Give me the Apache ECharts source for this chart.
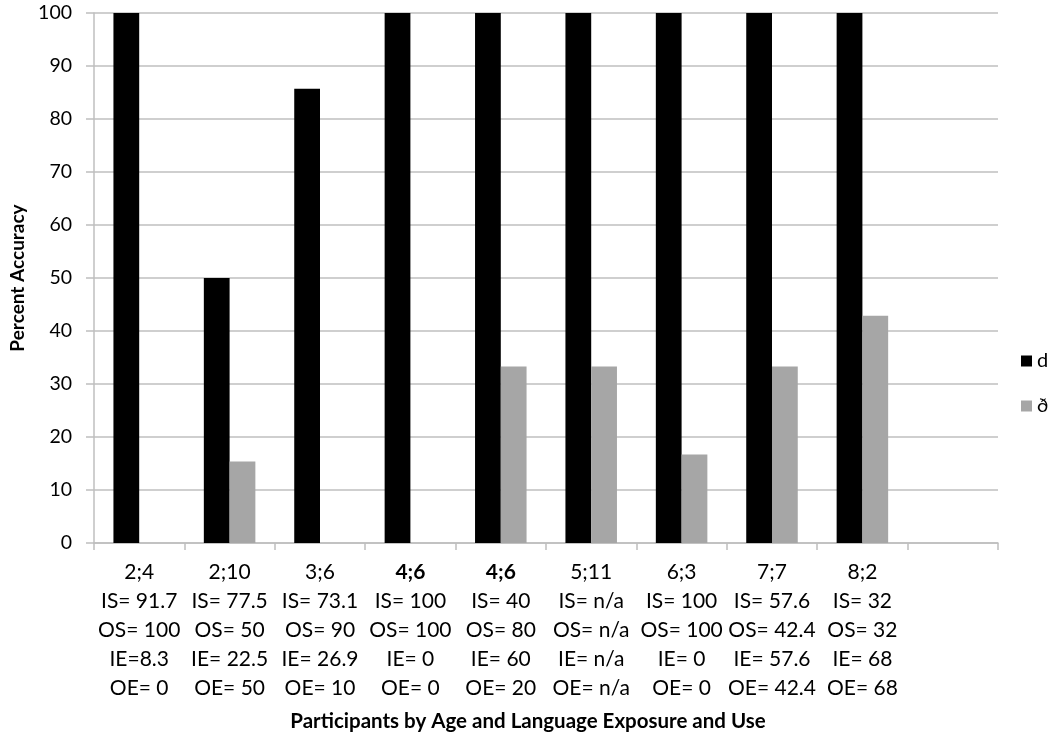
<!DOCTYPE html>
<html>
<head>
<meta charset="utf-8">
<script src="https://cdn.jsdelivr.net/npm/echarts@6/dist/echarts.min.js"></script>
<style>
  html, body { margin: 0; padding: 0; background: #fff; }
  #chart { width: 1050px; height: 744px; }
</style>
</head>
<body>
<div id="chart"></div>
<script>
// participant rows, the last slot is the empty category Excel left at the end
const ages = ['2;4', '2;10', '3;6', '4;6', '4;6', '5;11', '6;3', '7;7', '8;2', ''];
const inputSpanish = ['91.7', '77.5', '73.1', '100', '40', 'n/a', '100', '57.6', '32', ''];
const outputSpanish = ['100', '50', '90', '100', '80', 'n/a', '100', '42.4', '32', ''];
const inputEnglish = ['8.3', '22.5', '26.9', '0', '60', 'n/a', '0', '57.6', '68', ''];
const outputEnglish = ['0', '50', '10', '0', '20', 'n/a', '0', '42.4', '68', ''];

const dAccuracy = [100, 50, 85.7, 100, 100, 100, 100, 100, 100, null];
const ethAccuracy = [0, 15.4, 0, 0, 33.3, 33.3, 16.7, 33.3, 42.9, null];

const yTicks = { min: 0, max: 100, interval: 10 };

const FONT = 'Lato, "Open Sans", sans-serif';
const INK = '#000';
const GRID_GREY = '#bfbfbf';
const BOLD_AGE = new Set([3, 4]);

const fmt = (prefix, v) => {
  if (!v) return '';
  return prefix === 'IE' && v === '8.3' ? `IE=${v}` : `${prefix}= ${v}`;
};

const chart = echarts.init(document.getElementById('chart'), null, { renderer: 'canvas' });
chart.setOption({
  animation: false,
  textStyle: { fontFamily: FONT },
  grid: { left: 91, right: 52, top: 13, bottom: 201 },
  legend: {
    orient: 'vertical', left: 1016, top: 346,
    itemWidth: 11, itemHeight: 11, itemGap: 25, icon: 'rect',
    textStyle: { color: INK, fontSize: 20, lineHeight: 20, fontFamily: FONT },
    data: ['d', 'ð'],
  },
  xAxis: {
    type: 'category',
    data: ages.map((_, i) => String(i)),
    axisLine: { lineStyle: { color: GRID_GREY, width: 1.5 } },
    axisTick: { show: true, length: 7, lineStyle: { color: GRID_GREY, width: 1.5 } },
    axisLabel: {
      interval: 0, margin: 15, color: INK, fontSize: 21, lineHeight: 29, fontFamily: FONT,
      formatter: (v, i) => {
        const age = BOLD_AGE.has(i) ? `{b|${ages[i]}}` : ages[i];
        return [age, fmt('IS', inputSpanish[i]), fmt('OS', outputSpanish[i]),
          fmt('IE', inputEnglish[i]), fmt('OE', outputEnglish[i])].join('\n');
      },
      rich: { b: { fontWeight: 'bold', fontSize: 21, lineHeight: 29, color: INK, fontFamily: FONT } },
    },
    name: 'Participants by Age and Language Exposure and Use',
    nameLocation: 'middle', nameGap: 168,
    nameTextStyle: { fontWeight: 'bold', fontSize: 20.5, color: INK, fontFamily: FONT, padding: [0, 36, 0, 0] },
  },
  yAxis: {
    type: 'value', ...yTicks,
    axisLine: { show: true, lineStyle: { color: GRID_GREY, width: 1.5 } },
    axisTick: { show: true, length: 8, lineStyle: { color: GRID_GREY, width: 1.5 } },
    axisLabel: { margin: 22, color: INK, fontSize: 19.5, fontFamily: FONT },
    splitLine: { lineStyle: { color: GRID_GREY, width: 1.5 } },
    name: 'Percent Accuracy',
    nameLocation: 'middle', nameGap: 67,
    nameTextStyle: { fontWeight: 'bold', fontSize: 19, color: INK, fontFamily: FONT },
  },
  series: [
    { name: 'd', type: 'bar', data: dAccuracy, barGap: '0%', barCategoryGap: '43%',
      itemStyle: { color: '#000' } },
    { name: 'ð', type: 'bar', data: ethAccuracy,
      itemStyle: { color: '#a6a6a6' } },
  ],
});
</script>
</body>
</html>
